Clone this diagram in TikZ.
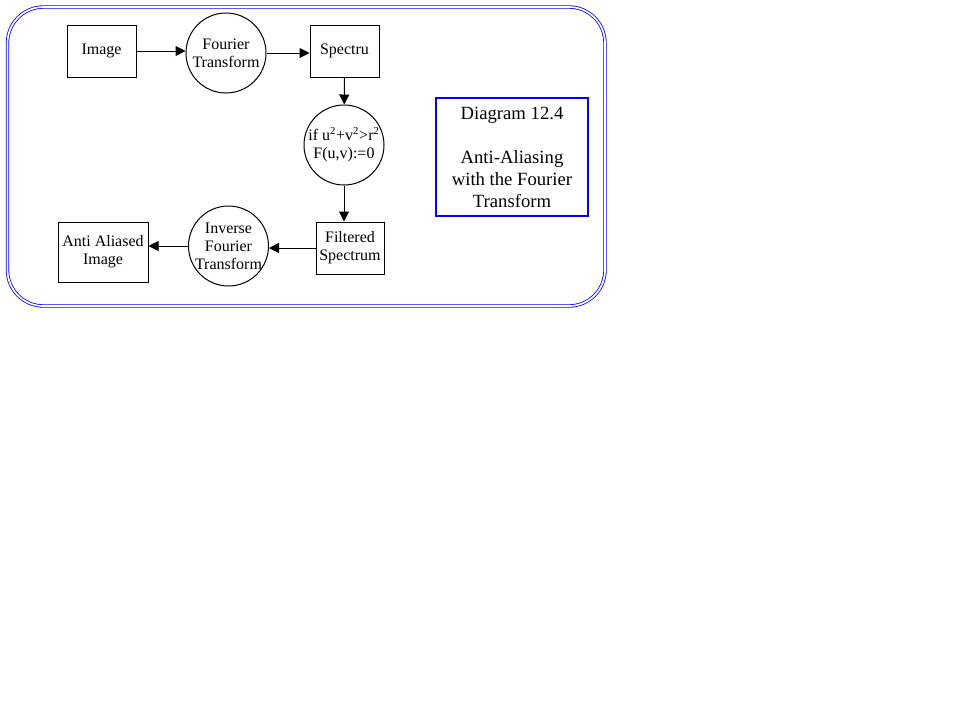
\documentclass[tikz,border=0pt]{standalone}
\usepackage{fontspec}
\setmainfont{Liberation Serif}
\usetikzlibrary{arrows.meta}
\tikzset{
	blok/.style={draw, line width=0.75pt, align=center, inner sep=0pt, font=\fontsize{12}{13.5}\selectfont},
	rond/.style={draw, circle, line width=0.75pt, minimum size=60pt, inner sep=-4pt, align=center, font=\fontsize{12}{13.5}\selectfont},
	pijl/.style={line width=0.75pt, -{Triangle[length=7.5pt,width=7.5pt]}}
}

\begin{document}
\begin{tikzpicture}[x=0.75pt, y=-0.75pt]
		%%%%% START %%%%%
		\useasboundingbox (0, 0) rectangle (959, 719);
		
		\draw[blue, line width=0.6pt, double=white, double distance=1.3pt, rounded corners=27pt] (7.5, 7) rectangle (605, 306);
		
		\node[blok, minimum width=51.75pt, minimum height=39pt] (image) at (101.5, 51) {Image};
		\node[rond] (fourier) at (226, 53) {Fourier\\Transform};
		\node[blok, minimum width=51.75pt, minimum height=39pt] (spectru) at (344.5, 51) {Spectru};
		\node[rond] (filter) at (344, 145) {if u\textsuperscript{2}+v\textsuperscript{2}>r\textsuperscript{2}\\F(u,v):=0};
		\node[blok, minimum width=51pt, minimum height=39pt] (filtered) at (350, 248) {Filtered\\Spectrum};
		\node[rond] (inverse) at (228.5, 246) {Inverse\\Fourier\\Transform};
		\node[blok, minimum width=67.5pt, minimum height=45pt] (anti) at (103, 252) {Anti Aliased\\Image};
		
		\node[draw=blue, line width=1.5pt, minimum width=114pt, minimum height=89pt, align=center, font=\fontsize{14}{16.5}\selectfont] (caption) at (512, 157) {Diagram 12.4\\\mbox{}\\Anti-Aliasing\\with the Fourier\\Transform};
		
		\draw[pijl] (image.east) -- (image.east -| fourier.west);
		\draw[pijl] (fourier.east) -- (fourier.east -| spectru.west);
		\draw[pijl] (spectru) -- (filter);
		\draw[pijl] (filter.south) -- (filter.south |- filtered.north);
		\draw[pijl] (filtered.west) -- (filtered.west -| inverse.east);
		\draw[pijl] (inverse.west) -- (inverse.west -| anti.east);
		
		%%%%% END %%%%%
	\end{tikzpicture}
\end{document}
